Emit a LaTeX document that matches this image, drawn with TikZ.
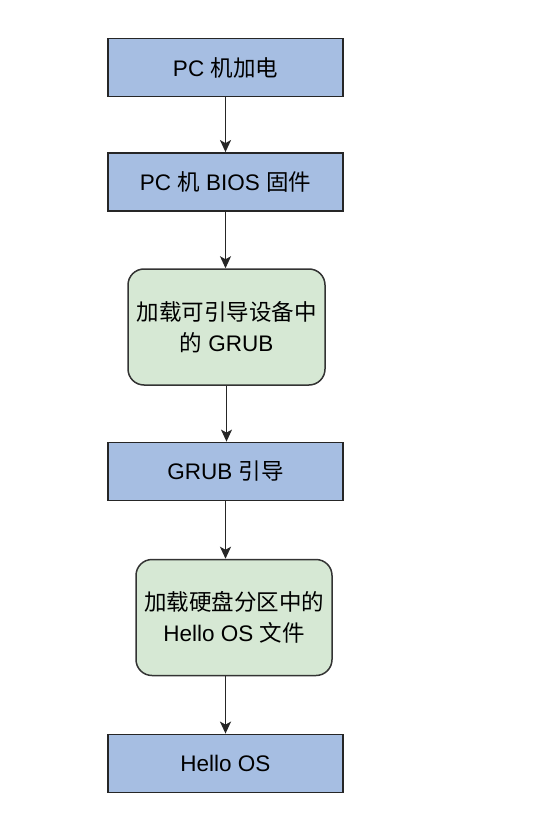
\documentclass[tikz,border=0pt]{standalone}
\usepackage{fontspec}
\setmainfont{Liberation Sans}
\newfontfamily\cjk{Noto Sans CJK SC}
\usetikzlibrary{arrows.meta}
\definecolor{stepblue}{HTML}{A6BEE2}
\definecolor{stepgreen}{HTML}{D6E8D4}
\tikzset{
  bluebox/.style={draw=black!85, line width=1.8pt, fill=stepblue, minimum width=235pt, minimum height=58pt, inner sep=0pt},
  greenbox/.style={draw=black!80, line width=1.5pt, fill=stepgreen, rounded corners=16pt, minimum width=197pt, minimum height=116pt, align=center, inner sep=0pt},
  flow/.style={line width=1.8pt, black!85, -{Stealth[length=12pt, width=11pt, inset=3pt]}}
}
\begin{document}
\begin{tikzpicture}[x=1pt, y=1pt, font=\fontsize{22.5}{31}\selectfont]
    \useasboundingbox (0,0) rectangle (539,-834);
    % boot steps
    \node[bluebox] (power) at (225.5,-67.5) {PC {\cjk 机加电}};
    \node[bluebox] (bios) at (225.5,-182) {PC {\cjk 机} BIOS {\cjk 固件}};
    \node[greenbox] (loadgrub) at (226.5,-327) {{\cjk 加载可引导设备中}\\{\cjk 的} GRUB};
    \node[bluebox] (grub) at (225.5,-471.5) {GRUB {\cjk 引导}};
    \node[greenbox, minimum width=196pt] (loados) at (234,-617.5) {{\cjk 加载硬盘分区中的}\\Hello OS {\cjk 文件}};
    \node[bluebox] (hello) at (225.5,-763.5) {Hello OS};
    % arrows
    \draw[flow] (power) -- (bios);
    \draw[flow, line width=1.2pt] (bios) -- (bios.south |- loadgrub.north);
    \draw[flow, line width=1.2pt] (loadgrub) -- (loadgrub.south |- grub.north);
    \draw[flow] (grub.south) -- (grub.south |- loados.north);
    \draw[flow] (grub.south |- loados.south) -- (hello.north);
\end{tikzpicture}
\end{document}
